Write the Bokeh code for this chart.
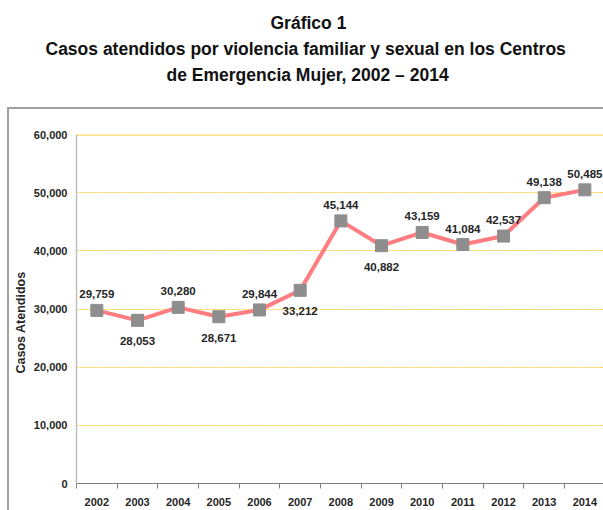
from bokeh.plotting import figure
from bokeh.models import (Range1d, FixedTicker, ColumnDataSource, Title,
                          NumeralTickFormatter, LabelSet, Span, InlineStyleSheet)
from bokeh.core.properties import value
from bokeh.embed import file_html
from bokeh.resources import INLINE

years = ["2002", "2003", "2004", "2005", "2006", "2007", "2008", "2009", "2010", "2011", "2012", "2013", "2014"]
casos = [29759, 28053, 30280, 28671, 29844, 33212, 45144, 40882, 43159, 41084, 42537, 49138, 50485]
label_pos = ["above", "below", "above", "below", "above", "below", "above", "below", "above", "above", "above", "above", "above"]
y_ticks = [0, 10000, 20000, 30000, 40000, 50000, 60000]
title_lines = ["Gráfico 1",
               "Casos atendidos por violencia familiar y sexual en los  Centros",
               "de Emergencia Mujer, 2002 – 2014"]
y_title = "Casos  Atendidos"

FONT = "Liberation Sans"

W, H = 603, 510
left, top, bottom = 76, 134, 27
band = 40.67
xs = [i + 0.5 for i in range(len(years))]

p = figure(width=W, height=H, output_backend="svg", toolbar_location=None,
           x_range=Range1d(0, (W - left) / band), y_range=Range1d(0, 60000),
           min_border_left=left, min_border_right=0, min_border_top=top, min_border_bottom=bottom)
p.outline_line_color = None
p.background_fill_color = "white"
p.border_fill_color = "white"
p.stylesheets = [InlineStyleSheet(css=":host{position:relative;} :host::after{content:'';position:absolute;"
                                      "left:7px;top:107px;width:620px;height:430px;border:2px solid #A0A0A0;"
                                      "pointer-events:none;box-sizing:border-box;}")]

# axes
p.xaxis.ticker = FixedTicker(ticks=xs, minor_ticks=list(range(len(years) + 1)))
p.xaxis.major_label_overrides = {x: y for x, y in zip(xs, years)}
p.xaxis.major_tick_line_color = None
p.xaxis.major_tick_out = 0
p.xaxis.major_tick_in = 0
p.xaxis.minor_tick_out = 5
p.xaxis.minor_tick_in = 0
p.xaxis.minor_tick_line_color = "#7F7F7F"
p.xaxis.axis_line_color = "#7F7F7F"
p.xaxis.axis_line_width = 1.2
p.xaxis.major_label_text_font = FONT
p.xaxis.major_label_text_font_style = "bold"
p.xaxis.major_label_text_font_size = "11px"
p.xaxis.major_label_text_color = "#262626"
p.xaxis.major_label_standoff = 9

p.yaxis.ticker = FixedTicker(ticks=y_ticks)
p.yaxis.formatter = NumeralTickFormatter(format="0,0")
p.yaxis.axis_line_color = "#BFBFBF"
p.yaxis.axis_line_width = 1.5
p.yaxis.major_tick_line_color = None
p.yaxis.major_tick_out = 0
p.yaxis.major_tick_in = 0
p.yaxis.minor_tick_line_color = None
p.yaxis.major_label_text_font = FONT
p.yaxis.major_label_text_font_style = "bold"
p.yaxis.major_label_text_font_size = "11px"
p.yaxis.major_label_text_color = "#262626"
p.yaxis.major_label_standoff = 9

p.xgrid.grid_line_color = None
p.ygrid.grid_line_color = "#FFCF40"
p.ygrid.grid_line_dash = "2 1"
p.ygrid.grid_line_width = 1.2
p.add_layout(Span(location=60000, dimension="width", line_color="#FFD966", line_width=2.5))

# data
def subset(pos):
    return ColumnDataSource(dict(
        x=[x for x, q in zip(xs, label_pos) if q == pos],
        y=[v for v, q in zip(casos, label_pos) if q == pos],
        t=["{:,}".format(v) for v, q in zip(casos, label_pos) if q == pos]))

p.line(xs, casos, line_color="#FF7C80", line_width=4)
p.scatter(xs, casos, marker="square", size=12, fill_color="#8E8E8E", line_color="#8E8E8E")

for pos, dy in [("above", 16), ("below", -21)]:
    p.add_layout(LabelSet(x="x", y="y", text="t", source=subset(pos), y_offset=dy,
                          text_align="center", text_baseline="middle", text_font=value(FONT),
                          text_font_size=value("11.5px"), text_font_style=value("bold"),
                          text_color=value("#262626")))

# y-axis title, in the left panel (outside the y axis)
p.add_layout(Title(text=y_title, align="left", offset=110, standoff=6, text_font=FONT,
                   text_font_style="bold", text_font_size="12.5px", text_color="#262626"), "left")

# chart titles stacked above the frame (first added is closest to the frame)
p.add_layout(Title(text=" ", text_font_size="2px", standoff=44), "above")
offsets = [194, -31, 90]
for txt, off in reversed(list(zip(title_lines, offsets))):
    p.add_layout(Title(text=txt, align="left", offset=off, standoff=4, text_font=FONT,
                       text_font_style="bold", text_font_size="17.5px", text_color="#111111"), "above")

open("out.html", "w").write(file_html(p, INLINE))
